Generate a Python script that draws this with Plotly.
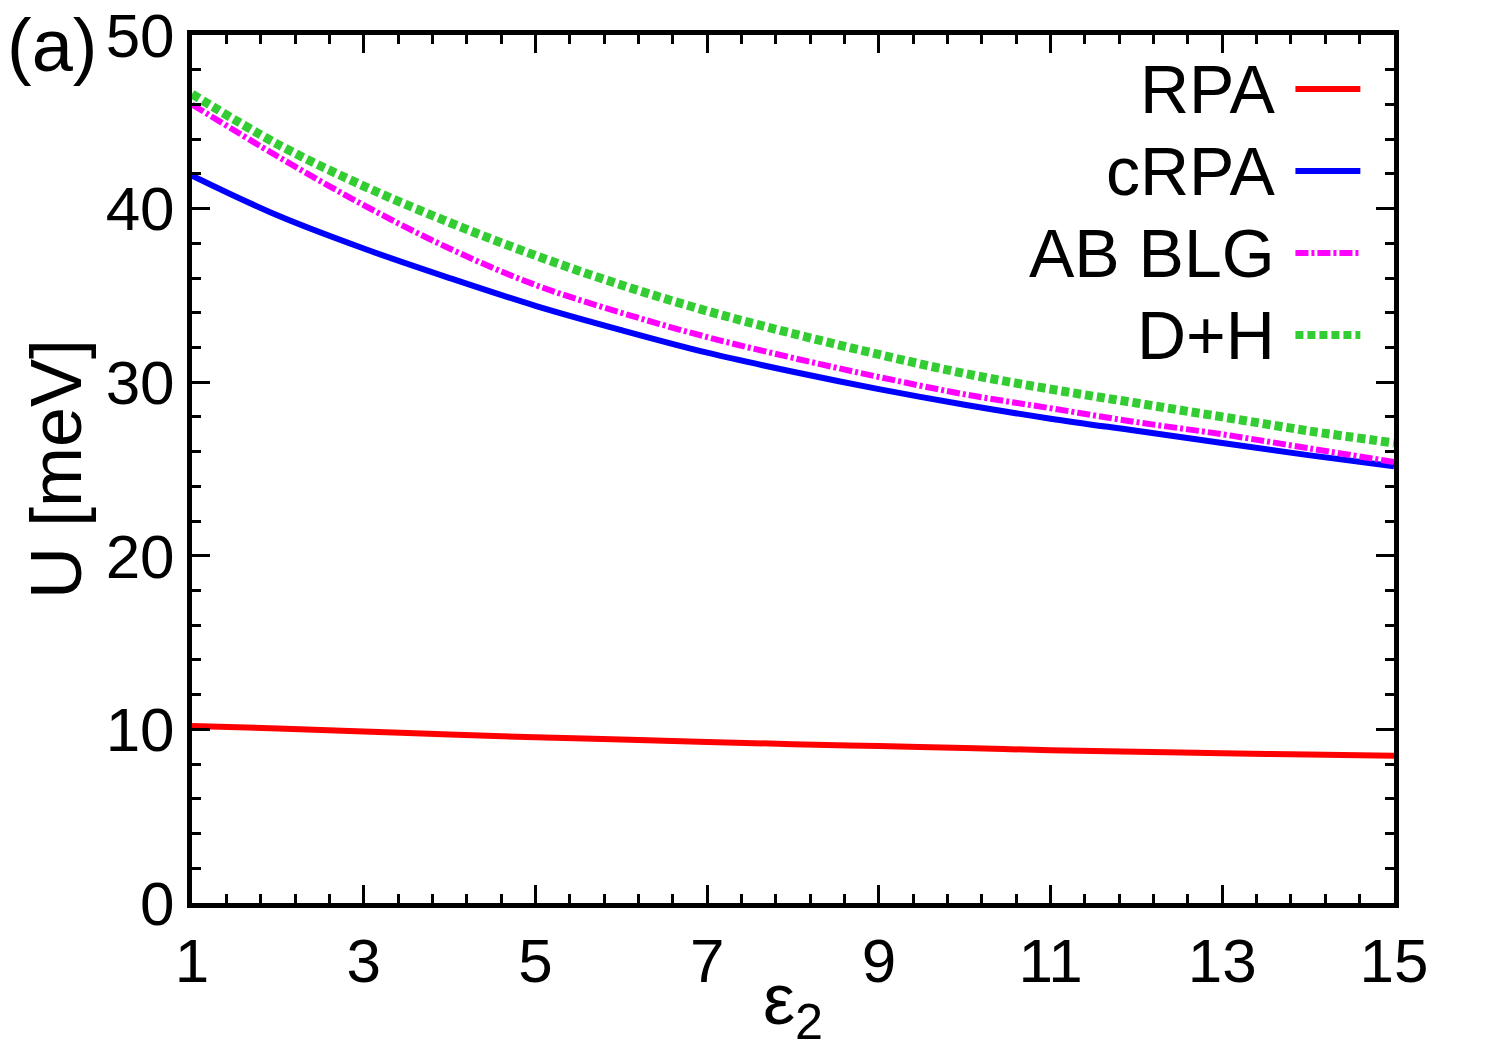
import plotly.graph_objects as go

eps2 = [1, 2, 3, 4, 5, 6, 7, 8, 9, 10, 11, 12, 13, 14, 15]
rpa = [10.2, 10.05, 9.88, 9.7, 9.55, 9.42, 9.28, 9.15, 9.04, 8.93, 8.8, 8.71, 8.62, 8.55, 8.48]
crpa = [41.9, 39.6, 37.7, 36.0, 34.4, 33.0, 31.7, 30.6, 29.6, 28.7, 27.9, 27.2, 26.5, 25.8, 25.15]
ab_blg = [46.0, 43.0, 40.2, 37.7, 35.6, 34.0, 32.6, 31.4, 30.3, 29.3, 28.5, 27.7, 27.0, 26.2, 25.4]
d_h = [46.6, 43.7, 41.3, 39.2, 37.3, 35.6, 34.1, 32.8, 31.6, 30.5, 29.6, 28.8, 28.0, 27.2, 26.5]

series_names = ["RPA", "cRPA", "AB BLG", "D+H"]
series_values = [rpa, crpa, ab_blg, d_h]
colors = ["#ff0000", "#0000ff", "#ff00ff", "#33cc33"]
dashes = ["solid", "solid", "13px,3px,3px,3px", "8px,4px"]
widths = [6, 6, 6, 9]

FONT = "Liberation Sans, Arial, Helvetica, sans-serif"

fig = go.Figure()
for name, vals, c, d, w in zip(series_names, series_values, colors, dashes, widths):
    fig.add_trace(go.Scatter(x=eps2, y=vals, mode="lines", name=name,
                             line=dict(color=c, dash=d, width=w, shape="spline"),
                             showlegend=False))

# Custom legend (text on the left, line sample on the right)
leg_y0 = 0.9378
leg_dy = 0.0945
for i, (name, c, d, w) in enumerate(zip(series_names, colors, dashes, widths)):
    yy = leg_y0 - i * leg_dy
    fig.add_annotation(xref="paper", yref="paper", x=0.903, y=yy, text=name,
                       showarrow=False, xanchor="right", yanchor="middle",
                       font=dict(family=FONT, size=68, color="black"))
    fig.add_shape(type="line", xref="paper", yref="paper", x0=0.918, x1=0.972,
                  y0=yy, y1=yy, line=dict(color=c, dash=d, width=min(w, 8)))

fig.add_annotation(xref="paper", yref="paper", x=-0.155, y=1.037, text="(a)",
                   showarrow=False, xanchor="left", yanchor="top", borderpad=0,
                   font=dict(family=FONT, size=74, color="black"))

axis_common = dict(showline=True, linewidth=5, linecolor="black", mirror="allticks",
                   ticks="inside", ticklen=18, tickwidth=3, tickcolor="black",
                   showgrid=False, zeroline=False, automargin=False,
                   tickfont=dict(family=FONT, size=62, color="black"))

fig.update_xaxes(range=[1, 15], tick0=1, dtick=2,
                 minor=dict(tick0=1, dtick=0.4, ticks="inside", ticklen=9, tickwidth=3,
                            tickcolor="black", showgrid=False),
                 title=dict(text="ε<sub>2</sub>", font=dict(family=FONT, size=72, color="black"),
                            standoff=0),
                 **axis_common)
fig.update_yaxes(range=[0, 50], tick0=0, dtick=10,
                 minor=dict(tick0=0, dtick=2, ticks="inside", ticklen=9, tickwidth=3,
                            tickcolor="black", showgrid=False),
                 title=dict(text="U [meV]", font=dict(family=FONT, size=72, color="black"),
                            standoff=2),
                 **axis_common)

fig.update_layout(width=1500, height=1050, margin=dict(l=192, r=106, t=35, b=147),
                  paper_bgcolor="white", plot_bgcolor="white", showlegend=False)

fig.write_html("out.html")
